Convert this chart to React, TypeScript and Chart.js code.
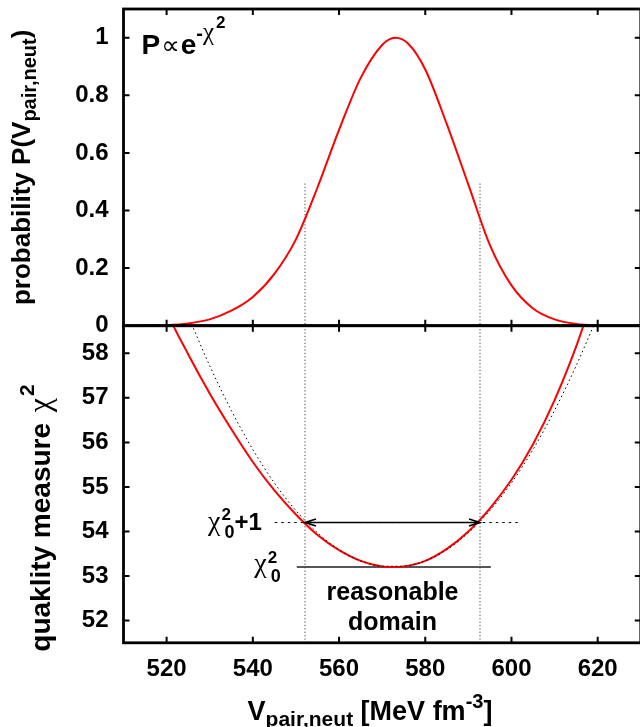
import React, { useEffect, useRef } from "react";
import { Chart, registerables } from "chart.js";

Chart.register(...registerables);

// ---------------- data ----------------
const xTicks = [520, 540, 560, 580, 600, 620];
const probTicks = [0, 0.2, 0.4, 0.6, 0.8, 1];
const chiTicks = [52, 53, 54, 55, 56, 57, 58];

// probability P(V) (top panel, red)
const probX = [510, 515, 520, 525, 530, 535, 540, 545, 550, 555, 560, 565, 570, 573, 576, 580, 585, 590, 595, 600, 605, 610, 615, 620, 625, 630];
const probY = [0, 0.0005, 0.002, 0.008, 0.022, 0.052, 0.1, 0.18, 0.3, 0.48, 0.68, 0.86, 0.975, 1.0, 0.98, 0.89, 0.7, 0.49, 0.28, 0.14, 0.06, 0.022, 0.006, 0.001, 0, 0];

// chi^2 (bottom panel, red)
const chiX = [518, 520, 525, 530, 535, 540, 545, 550, 555, 560, 565, 570, 572.5, 575, 580, 585, 590, 595, 600, 605, 610, 615, 618];
const chiY = [59.5, 58.95, 57.98, 57.1, 56.3, 55.56, 54.92, 54.38, 53.92, 53.58, 53.34, 53.215, 53.2, 53.215, 53.34, 53.61, 54.0, 54.52, 55.16, 55.96, 56.95, 58.15, 59.0];

// parabolic approximation (bottom panel, black dotted)
const paraX = [525, 530, 535, 540, 545, 550, 555, 560, 565, 570, 575, 580, 585, 590, 595, 600, 605, 610, 615, 620];
const paraY = [58.84, 57.72, 56.72, 55.84, 55.09, 54.47, 53.97, 53.59, 53.34, 53.22, 53.22, 53.34, 53.59, 53.97, 54.47, 55.09, 55.84, 56.72, 57.72, 58.84];

// reasonable domain markers
const domainX = [552.1, 592.7];
const domainTopP = 0.494;
const chi0 = 53.2;
const chi0Plus1 = 54.2;
const chi0LineX = [550.2, 595.2];
const chi1LineX = [545.1, 602.4];

// axis ranges
const X_RANGE = [510, 630];
const P_RANGE = [0, 1.1];
const C_RANGE = [51.5, 58.62];

// ---------------- layout ----------------
const SANS = "'Liberation Sans', Arial, Helvetica, sans-serif";
const SERIF = "'Liberation Serif', 'DejaVu Serif', serif";
const CW = 660;
const PLOT_LEFT = 123.5;
const PLOT_RIGHT = 640.8;
const TOP_Y = 9;
const MID_Y = 325.7;
const BOT_Y = 642.8;
const TOP_H = 345;
const BOT_TOP = 300;
const BOT_H = 427;

const B = (s: number) => `bold ${s}px ${SANS}`;
const S = (s: number) => `${s}px ${SERIF}`;

type Seg = { t: string; f: string; dy?: number; stack?: boolean; dx?: number };

function drawRich(ctx: CanvasRenderingContext2D, segs: Seg[], x: number, y: number, align: "left" | "center" | "right") {
  let cur = 0;
  let prevStart = 0;
  const items: { s: Seg; x: number }[] = [];
  for (const s of segs) {
    ctx.font = s.f;
    const w = ctx.measureText(s.t).width;
    let start = s.stack ? prevStart : cur;
    start += s.dx || 0;
    items.push({ s, x: start });
    cur = Math.max(cur, start + w);
    prevStart = start;
  }
  const x0 = align === "center" ? x - cur / 2 : align === "right" ? x - cur : x;
  ctx.textAlign = "left";
  ctx.textBaseline = "alphabetic";
  ctx.fillStyle = "#000";
  for (const it of items) {
    ctx.font = it.s.f;
    ctx.fillText(it.s.t, x0 + it.x, y + (it.s.dy || 0));
  }
}

function drawRotated(ctx: CanvasRenderingContext2D, segs: Seg[], x: number, y: number) {
  ctx.save();
  ctx.translate(x, y);
  ctx.rotate(-Math.PI / 2);
  drawRich(ctx, segs, 0, 0, "center");
  ctx.restore();
}

function frame(chart: any, yt: number[]) {
  const { ctx, chartArea: a, scales } = chart;
  ctx.save();
  ctx.strokeStyle = "#000";
  ctx.lineWidth = 2;
  ctx.beginPath();
  for (const v of xTicks) {
    const p = scales.x.getPixelForValue(v);
    ctx.moveTo(p, a.top);
    ctx.lineTo(p, a.top + 6);
    ctx.moveTo(p, a.bottom);
    ctx.lineTo(p, a.bottom - 6);
  }
  for (const v of yt) {
    const p = scales.y.getPixelForValue(v);
    ctx.moveTo(a.left, p);
    ctx.lineTo(a.left + 6, p);
    ctx.moveTo(a.right, p);
    ctx.lineTo(a.right - 6, p);
  }
  ctx.stroke();
  ctx.lineWidth = 2.8;
  ctx.strokeRect(a.left, a.top, a.right - a.left, a.bottom - a.top);
  ctx.restore();
}

const resetPad = (s: any) => {
  s.paddingTop = 0;
  s.paddingBottom = 0;
  s.paddingLeft = 0;
  s.paddingRight = 0;
};

function pts(xs: number[], ys: number[]) {
  return xs.map((x, i) => ({ x, y: ys[i] }));
}

export default function App() {
  const topRef = useRef<HTMLCanvasElement>(null);
  const botRef = useRef<HTMLCanvasElement>(null);

  useEffect(() => {
    Chart.defaults.font.family = SANS;
    Chart.defaults.color = "#000";

    const topPlugin = {
      id: "topDecor",
      afterDatasetsDraw(chart: any) {
        frame(chart, probTicks);
      },
      afterDraw(chart: any) {
        const { ctx, chartArea: a } = chart;
        drawRotated(
          ctx,
          [
            { t: "probability P(V", f: B(26) },
            { t: "pair,neut", f: B(20), dy: 6 },
            { t: ")", f: B(26) },
          ],
          29.5,
          (a.top + a.bottom) / 2
        );
        drawRich(
          ctx,
          [
            { t: "P", f: B(28) },
            { t: "\u221D", f: `26px 'DejaVu Sans'`, dx: 1 },
            { t: "e", f: B(28), dx: 1 },
            { t: "-", f: B(20), dy: -14 },
            { t: "\u03C7", f: S(25), dy: -14 },
            { t: "2", f: B(17), dy: -26, dx: 2 },
          ],
          141.5,
          54,
          "left"
        );
      },
    };

    const botPlugin = {
      id: "botDecor",
      afterDatasetsDraw(chart: any) {
        const { ctx, scales } = chart;
        // double arrow
        const y = scales.y.getPixelForValue(chi0Plus1);
        const x1 = scales.x.getPixelForValue(domainX[0]);
        const x2 = scales.x.getPixelForValue(domainX[1]);
        ctx.save();
        ctx.strokeStyle = "#000";
        ctx.lineWidth = 1.6;
        ctx.beginPath();
        ctx.moveTo(x1, y);
        ctx.lineTo(x2, y);
        ctx.moveTo(x1 + 11, y - 3.5);
        ctx.lineTo(x1, y);
        ctx.lineTo(x1 + 11, y + 3.5);
        ctx.moveTo(x2 - 11, y - 3.5);
        ctx.lineTo(x2, y);
        ctx.lineTo(x2 - 11, y + 3.5);
        ctx.stroke();
        ctx.restore();
        frame(chart, chiTicks);
      },
      afterDraw(chart: any) {
        const { ctx, scales } = chart;
        const off = BOT_TOP;
        drawRotated(
          ctx,
          [
            { t: "quaklity measure ", f: B(28) },
            { t: "\u03C7", f: S(32), dx: 3 },
            { t: "2", f: B(21), dy: -16, dx: 2 },
          ],
          50,
          518 - off
        );
        drawRich(
          ctx,
          [
            { t: "V", f: B(27) },
            { t: "pair,neut", f: B(21), dy: 6 },
            { t: " [MeV fm", f: B(27) },
            { t: "-3", f: B(20), dy: -12 },
            { t: "]", f: B(27) },
          ],
          370,
          720 - off,
          "center"
        );
        const px = (v: number) => scales.x.getPixelForValue(v);
        const py = (v: number) => scales.y.getPixelForValue(v);
        drawRich(
          ctx,
          [
            { t: "\u03C7", f: S(28) },
            { t: "2", f: B(17), dy: -10, dx: 1 },
            { t: "0", f: B(18), dy: 8, stack: true, dx: 3 },
            { t: "+1", f: B(24) },
          ],
          px(chi1LineX[0]) - 13,
          py(chi0Plus1) + 7,
          "right"
        );
        drawRich(
          ctx,
          [
            { t: "\u03C7", f: S(28) },
            { t: "2", f: B(17), dy: -9, dx: 1 },
            { t: "0", f: B(18), dy: 10, stack: true, dx: 3 },
          ],
          px(chi0LineX[0]) - 16,
          py(chi0) + 5,
          "right"
        );
        const cx = px((domainX[0] + domainX[1]) / 2);
        drawRich(ctx, [{ t: "reasonable", f: B(25) }], cx, py(52.46), "center");
        drawRich(ctx, [{ t: "domain", f: B(25) }], cx, py(51.79), "center");
      },
    };

    const xScaleBase = (showLabels: boolean, h: number) => ({
      type: "linear" as const,
      min: X_RANGE[0],
      max: X_RANGE[1],
      grid: { display: false, drawTicks: false },
      border: { display: false },
      ticks: {
        display: showLabels,
        maxRotation: 0,
        autoSkip: false,
        padding: 12,
        font: { size: 24, weight: "bold" as const },
        color: "#000",
      },
      afterBuildTicks: (s: any) => {
        s.ticks = xTicks.map((v) => ({ value: v }));
      },
      afterFit: (s: any) => {
        s.height = h;
        resetPad(s);
      },
    });

    const yScaleBase = (range: number[], ticks: number[]) => ({
      type: "linear" as const,
      min: range[0],
      max: range[1],
      grid: { display: false, drawTicks: false },
      border: { display: false },
      ticks: {
        padding: 15,
        font: { size: 24, weight: "bold" as const },
        color: "#000",
        callback: (v: any) => String(v),
      },
      afterBuildTicks: (s: any) => {
        s.ticks = ticks.map((v) => ({ value: v }));
      },
      afterFit: (s: any) => {
        s.width = PLOT_LEFT;
        resetPad(s);
      },
    });

    const common = {
      responsive: false,
      animation: false as const,
      events: [] as any[],
      plugins: { legend: { display: false }, tooltip: { enabled: false } },
      elements: { point: { radius: 0 } },
    };

    const dotted = { borderColor: "#444", borderWidth: 1, borderDash: [1.2, 2.2] };

    const top = new Chart(topRef.current!, {
      type: "line",
      data: {
        datasets: [
          {
            data: pts(probX, probY),
            borderColor: "#ff0000",
            borderWidth: 2,
            cubicInterpolationMode: "monotone",
          },
          {
            data: [
              { x: domainX[0], y: domainTopP },
              { x: domainX[0], y: 0 },
            ],
            ...dotted,
          },
          {
            data: [
              { x: domainX[1], y: domainTopP },
              { x: domainX[1], y: 0 },
            ],
            ...dotted,
          },
        ],
      },
      options: {
        ...common,
        layout: { padding: { top: TOP_Y, right: CW - PLOT_RIGHT, left: 0, bottom: 0 } },
        scales: {
          x: xScaleBase(false, TOP_H - MID_Y),
          y: yScaleBase(P_RANGE, probTicks),
        },
      } as any,
      plugins: [topPlugin],
    });

    const bot = new Chart(botRef.current!, {
      type: "line",
      data: {
        datasets: [
          {
            data: pts(paraX, paraY),
            borderColor: "#000",
            borderWidth: 1,
            borderDash: [1.5, 3],
            cubicInterpolationMode: "monotone",
          },
          {
            data: pts(chiX, chiY),
            borderColor: "#ff0000",
            borderWidth: 2,
            cubicInterpolationMode: "monotone",
          },
          {
            data: [
              { x: domainX[0], y: C_RANGE[1] },
              { x: domainX[0], y: C_RANGE[0] },
            ],
            ...dotted,
          },
          {
            data: [
              { x: domainX[1], y: C_RANGE[1] },
              { x: domainX[1], y: C_RANGE[0] },
            ],
            ...dotted,
          },
          {
            data: [
              { x: chi1LineX[0], y: chi0Plus1 },
              { x: chi1LineX[1], y: chi0Plus1 },
            ],
            borderColor: "#000",
            borderWidth: 1,
            borderDash: [2.5, 4],
          },
          {
            data: [
              { x: chi0LineX[0], y: chi0 },
              { x: chi0LineX[1], y: chi0 },
            ],
            borderColor: "#555",
            borderWidth: 2,
          },
        ],
      },
      options: {
        ...common,
        layout: { padding: { top: MID_Y - BOT_TOP, right: CW - PLOT_RIGHT, left: 0, bottom: 0 } },
        scales: {
          x: xScaleBase(true, BOT_H - (BOT_Y - BOT_TOP)),
          y: yScaleBase(C_RANGE, chiTicks),
        },
      } as any,
      plugins: [botPlugin],
    });

    return () => {
      top.destroy();
      bot.destroy();
    };
  }, []);

  return (
    <div
      style={{
        position: "absolute",
        left: 0,
        top: 0,
        width: 640,
        height: 727,
        overflow: "hidden",
        background: "#fff",
      }}
    >
      <canvas ref={topRef} width={CW} height={TOP_H} style={{ position: "absolute", left: 0, top: 0 }} />
      <canvas ref={botRef} width={CW} height={BOT_H} style={{ position: "absolute", left: 0, top: BOT_TOP }} />
    </div>
  );
}
